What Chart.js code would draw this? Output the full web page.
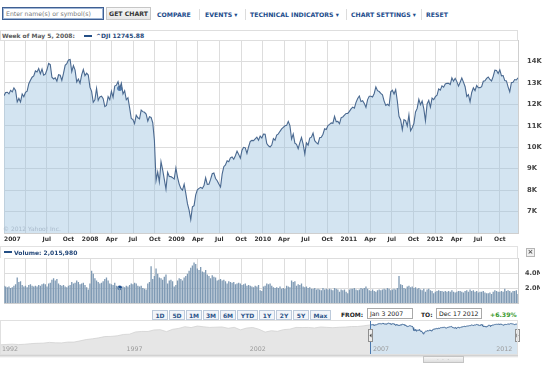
<!DOCTYPE html>
<html><head><meta charset="utf-8">
<script src="https://cdn.jsdelivr.net/npm/chart.js@4.4.0/dist/chart.umd.min.js"></script>
<style>
html,body{margin:0;padding:0;background:#fff;width:550px;height:367px;overflow:hidden;font-family:"DejaVu Sans",Verdana,sans-serif;}
.a{position:absolute;white-space:nowrap;}
.menu{font-weight:bold;font-size:6.2px;color:#1d4c8c;top:11px;line-height:8px;}
.sep{width:1px;height:11px;top:9px;background:#dcdcdc;}
.btn{top:310px;height:10px;line-height:10px;box-sizing:border-box;border:1px solid #bccadb;background:#f2f5f9;color:#2b5389;font-weight:bold;font-size:6px;text-align:center;}
.inp{top:308px;height:11px;box-sizing:border-box;border:1px solid #a9a9a9;background:#fff;color:#222;font-size:6.2px;line-height:9px;padding-left:2px;}
canvas{position:absolute;}
</style></head><body>

<!-- toolbar -->
<div class="a" style="left:2px;top:7px;width:102px;height:13px;box-sizing:border-box;border:1px solid #3f5f92;box-shadow:inset 0 0 0 1px #9fb6d6;color:#7a7a7a;font-size:6.2px;line-height:11px;padding-left:3px;">Enter name(s) or symbol(s)</div>
<div class="a" style="left:106px;top:7px;width:45px;height:13px;box-sizing:border-box;border:1px solid #c6c6c6;background:linear-gradient(#f7f7f7,#e6e6e6);color:#333;font-weight:bold;font-size:6.2px;line-height:11px;text-align:center;">GET CHART</div>
<div class="a menu" style="left:157px;">COMPARE</div>
<div class="a sep" style="left:199px;"></div>
<div class="a menu" style="left:205px;">EVENTS ▾</div>
<div class="a sep" style="left:245px;"></div>
<div class="a menu" style="left:250px;">TECHNICAL INDICATORS ▾</div>
<div class="a sep" style="left:346px;"></div>
<div class="a menu" style="left:351px;">CHART SETTINGS ▾</div>
<div class="a sep" style="left:421px;"></div>
<div class="a menu" style="left:426px;">RESET</div>

<canvas id="main" width="542" height="212" style="left:0;top:35px"></canvas>
<div class="a" style="left:0;top:30px;width:518px;height:11px;box-sizing:border-box;border:1px solid #dedede;background:#fff;"></div>
<div class="a" style="left:2px;top:32px;font-size:6px;font-weight:bold;color:#5a5a5a;line-height:7px;">Week of May 5, 2008:</div>
<div class="a" style="left:84px;top:35px;width:8px;height:2px;background:#244f86;"></div>
<div class="a" style="left:96px;top:32px;font-size:6px;font-weight:bold;color:#24487a;line-height:7px;">^DJI 12745.88</div>
<div class="a" style="left:3px;top:225px;font-size:6px;color:#a9bacb;line-height:7px;">© 2012 Yahoo! Inc.</div>

<canvas id="vol" width="540" height="55" style="left:0;top:253px"></canvas>
<div class="a" style="left:0;top:246px;width:518px;height:12px;box-sizing:border-box;border:1px solid #e2e2e2;border-bottom:none;background:#fff;"></div>
<div class="a" style="left:4px;top:251px;width:8px;height:2px;background:#244f86;"></div>
<div class="a" style="left:14px;top:249px;font-size:6px;font-weight:bold;color:#24487a;line-height:7px;">Volume: 2,015,980</div>
<div class="a" style="left:526px;top:248px;width:9px;height:9px;box-sizing:border-box;border:1px solid #b5b5b5;background:#f1f1f1;color:#555;font-size:7px;line-height:7px;text-align:center;font-weight:bold;">×</div>

<!-- range buttons -->
<div id="btns"></div>
<div class="a" style="left:341px;top:310px;font-size:6px;font-weight:bold;color:#222;line-height:9px;">FROM:</div>
<div class="a inp" style="left:367px;width:46px;">Jan 3 2007</div>
<div class="a" style="left:421px;top:310px;font-size:6px;font-weight:bold;color:#222;line-height:9px;">TO:</div>
<div class="a inp" style="left:436px;width:46px;">Dec 17 2012</div>
<div class="a" style="left:490px;top:310px;font-size:6.2px;font-weight:bold;color:#3a9a2e;line-height:9px;">+6.39%</div>

<canvas id="nav" width="520" height="34" style="left:0;top:321px"></canvas>
<div class="a" style="left:0;top:320px;width:518px;height:35px;box-sizing:border-box;border:1px solid #e0e0e0;"></div>
<div class="a" style="left:0;top:355px;width:518px;height:3px;background:linear-gradient(#c9c9c9,#fff);"></div>
<div class="a" style="left:423px;top:356px;width:41px;height:7px;box-sizing:border-box;border:1px solid #c4c4c4;background:linear-gradient(#f6f6f6,#dedede);color:#aaa;font-size:5px;line-height:5px;text-align:center;letter-spacing:1px;">- - -</div>

<script>
// ---------------- DATA ----------------
// Dow Jones (^DJI) weekly closes, one value per week, weeks starting Mon Jan 1 2007
const dji2007 = [12398,12556,12565,12487,12653,12580,12767,12647,12114,12276,12110,12481,12354,12560,12612,12961,13120,13264,13326,13556,13507,13668,13424,13639,13360,13409,13611,13907,13851,13265,13182,13239,13079,13379,13358,13113,13442,13820,13896,14066,14093,13522,13806,13595,13043,13177,12981,13372,13625,13340,13451,13366];
const dji2008 = [12800,12606,12099,12207,12743,12183,12348,12381,12266,11894,11951,12361,12216,12609,12325,12849,12891,13058,12745.88,12986,12480,12638,12210,12307,11843,11347,11288,11100,11496,11370,11326,11734,11659,11628,11543,11220,11421,11388,11143,10325,8451,8852,8378,9325,8943,8497,8046,8829,8635,8629,8579,8515];
const dji2009 = [9034,8599,8281,8077,8001,8280,7850,7366,7063,6627,7224,7278,7776,8018,8083,8131,8076,8212,8575,8268,8277,8500,8764,8799,8540,8439,8280,8146,8743,9093,9172,9370,9321,9505,9544,9441,9605,9820,9665,9487,9865,9995,9972,9713,10023,10270,10318,10310,10389,10471,10329,10520,10428];
const dji2010 = [10618,10610,10172,10067,10012,10099,10402,10325,10567,10625,10742,10851,10927,10997,11019,11204,11009,10380,10620,10193,10137,9931,10212,10450,10144,9686,10198,10097,10424,10466,10654,10303,10213,10150,10448,10462,10607,10860,10829,11006,11063,11133,11118,11444,11192,11204,11092,11382,11410,11492,11573,11578];
const dji2011 = [11675,11787,11871,11823,12092,12273,12391,12130,12169,12044,11859,12221,12376,12380,12342,12505,12811,12638,12596,12512,12441,12151,11952,12004,11934,12583,12657,12480,12681,12143,11444,11269,10817,11285,11240,10992,11509,10771,10913,11103,11644,11809,12231,11983,12153,11796,11231,12019,12184,11867,12294,12218];
const dji2012 = [12360,12422,12720,12660,12862,12801,12950,12983,12978,12922,13233,13081,13212,13060,12850,13029,13228,13038,12821,12369,12455,12119,12554,12767,12640,12880,12772,12777,12822,13075,13096,13207,13275,13158,13090,13306,13593,13579,13437,13610,13328,13343,13107,13093,12815,12588,13010,13026,13155,13135,13235];

// Weekly volume (millions), same weeks
const vol2007 = [2.3,2.2,2.1,2.2,2.0,2.1,2.3,2.5,3.4,2.8,2.9,2.4,2.2,2.3,2.1,2.4,2.5,2.3,2.2,2.3,2.2,2.4,2.3,2.5,2.6,2.5,2.2,2.6,2.7,3.1,3.3,3.0,3.2,2.6,2.4,2.3,2.4,2.2,2.1,2.3,2.4,2.8,2.6,2.7,3.0,2.8,2.5,2.6,2.7,2.4,2.1,1.8];
const vol2008 = [2.6,4.3,3.9,3.3,3.0,2.8,2.6,2.7,2.9,3.2,3.4,3.0,2.6,2.5,2.4,2.7,2.3,2.2,2.016,2.0,2.2,2.1,2.3,2.2,2.4,2.6,2.5,2.7,2.6,2.3,2.2,2.3,2.0,1.9,1.8,2.6,2.8,4.9,3.2,3.6,4.6,3.9,3.4,3.3,3.1,3.5,3.8,2.6,3.0,3.1,2.9,2.2];
const vol2009 = [2.4,3.0,3.3,3.2,3.0,3.4,3.6,3.9,4.3,4.7,5.0,5.4,5.2,4.6,4.4,4.8,4.2,4.1,4.4,3.8,3.6,3.3,3.7,3.5,3.4,3.0,3.1,3.2,3.0,3.1,2.9,2.6,2.9,2.8,2.7,2.8,2.5,2.6,2.7,2.6,2.4,2.5,2.6,2.3,2.4,2.3,2.2,2.1,2.3,2.2,2.4,1.7,1.6];
const vol2010 = [2.2,2.3,2.6,2.5,2.6,2.3,2.1,2.0,2.1,2.0,2.2,1.9,2.0,1.9,2.3,2.2,2.1,3.0,2.8,2.9,2.3,2.5,2.4,2.6,2.2,2.1,2.2,2.0,2.1,1.9,1.9,2.0,1.8,1.9,1.8,1.7,2.0,1.8,1.9,1.8,1.9,1.8,1.7,2.0,1.9,1.8,1.5,1.8,1.7,1.8,1.5,1.3];
const vol2011 = [1.8,1.9,1.9,2.0,1.8,1.7,1.8,2.0,1.9,2.0,2.2,1.9,1.7,1.6,1.8,1.6,1.5,1.7,1.8,1.7,1.8,1.9,1.8,2.0,1.9,1.7,1.8,1.9,1.8,2.0,3.6,2.5,2.4,2.0,1.9,2.2,2.3,2.1,2.2,2.0,2.1,1.9,2.0,1.8,1.7,1.9,1.5,1.8,1.9,1.7,1.6,1.3];
const vol2012 = [1.5,1.6,1.7,1.6,1.6,1.5,1.6,1.5,1.6,1.5,1.7,1.5,1.4,1.5,1.6,1.6,1.5,1.4,1.6,1.7,1.5,1.8,1.6,1.7,1.5,1.6,1.4,1.5,1.5,1.6,1.4,1.3,1.3,1.4,1.2,1.5,1.7,1.6,1.5,1.5,1.6,1.5,1.9,1.6,1.7,1.6,1.4,1.6,1.6,1.7,1.2];

// Long-term ^DJI for the navigator, quarterly (start of quarter), 1992 - 2006
const djiQuarterly1992to2006 = [3170,3250,3320,3230, 3300,3440,3520,3560, 3750,3640,3620,3830, 3830,4160,4560,4790, 5120,5590,5650,5880, 6450,6580,7670,7950, 7910,8800,8950,7840, 9180,9790,10970,10340, 11500,10920,10450,10650, 10790,9880,10500,8850, 10020,10400,9240,7590, 8340,7990,8990,9280, 10450,10360,10440,10080, 10780,10500,10270,10570, 10720,11110,11150,11680];

const xTickLabels = ['2007','Apr','Jul','Oct','2008','Apr','Jul','Oct','2009','Apr','Jul','Oct','2010','Apr','Jul','Oct','2011','Apr','Jul','Oct','2012','Apr','Jul','Oct'];
const priceTicks = [7000,8000,9000,10000,11000,12000,13000,14000];
const priceTickLabels = ['7K','8K','9K','10K','11K','12K','13K','14K'];
const volTicks = [2000000,4000000];
const volTickLabels = ['2.0M','4.0M'];
const navYears = [1992,1997,2002,2007,2012];
const markerWeek = [2008,4,5];   // "Week of May 5, 2008"
const rangeFromTo = [[2007,0,1],[2012,11,17]];

// ---------------- BUILD ----------------
const DAY = 864e5, T0 = Date.UTC(2007,0,1);
const dayOf = (y,m,d) => (Date.UTC(y,m,d) - T0) / DAY;
const lastDay = dayOf(...rangeFromTo[1]);
const firstDay = dayOf(...rangeFromTo[0]);
const djiWeekly = [].concat(dji2007,dji2008,dji2009,dji2010,dji2011,dji2012);
const volWeekly = [].concat(vol2007,vol2008,vol2009,vol2010,vol2011,vol2012);
const priceData = djiWeekly.map((v,i) => ({x: i*7, y: v}));
const volData = volWeekly.map((v,i) => ({x: i*7, y: v*1e6}));
const markerIdx = Math.round(dayOf(...markerWeek) / 7);
const quarterDays = xTickLabels.map((_, i) => dayOf(2007 + Math.floor(i/4), (i%4)*3, 1));
const navLong = djiQuarterly1992to2006.map((v,k) => ({x: dayOf(1992 + Math.floor(k/4), (k%4)*3, 1), y: v}));
navLong.push(priceData[0]);

const FONT = '"DejaVu Sans", Verdana, sans-serif';
const GRID = '#dddddd';
const noTick = 'rgba(0,0,0,0)';
const common = {animation:false, responsive:false, devicePixelRatio:1, events:[],
  plugins:{legend:{display:false}, tooltip:{enabled:false}}};

// range buttons (HTML)
const rangeButtons = ['1D','5D','1M','3M','6M','YTD','1Y','2Y','5Y','Max'];
(function(){
  let x = 152;
  const host = document.getElementById('btns');
  rangeButtons.forEach(t => {
    const w = (t.length === 3) ? 21 : 16;
    const d = document.createElement('div');
    d.className = 'a btn'; d.style.left = x + 'px'; d.style.width = w + 'px'; d.textContent = t;
    host.appendChild(d); x += w + 1;
  });
})();

// main price chart
new Chart(document.getElementById('main'), {
  type:'line',
  data:{datasets:[
    {data: priceData, borderColor:'#4a6990', borderWidth:1.1, backgroundColor:'rgba(150,190,222,0.42)', fill:'start', pointRadius:0, tension:0},
    {data:[priceData[markerIdx]], showLine:false, pointRadius:2.6, pointBackgroundColor:'#1f4f8f', pointBorderWidth:0}
  ]},
  options:Object.assign({}, common, {
    layout:{padding:{top:5,left:0,right:0,bottom:0}},
    scales:{
      x:{type:'linear', min:0, max:lastDay, bounds:'data',
        afterBuildTicks: s => { s.ticks = quarterDays.map(v => ({value:v})).concat([{value:lastDay}]); },
        afterFit: s => { s.height = 14; },
        grid:{color:GRID, tickColor:noTick, tickLength:3},
        border:{display:true, color:'#cfcfcf'},
        ticks:{align:'inner', autoSkip:false, maxRotation:0, minRotation:0, padding:0, color:'#333',
          font:{family:FONT, size:6, weight:'bold'},
          callback:(v,i) => (i === 1 || i >= xTickLabels.length) ? '' : xTickLabels[i]}
      },
      y:{position:'right', min:6000, max:15000, bounds:'data',
        afterBuildTicks: s => { s.ticks = priceTicks.map(v => ({value:v})); },
        afterFit: s => { s.width = 24; },
        grid:{color:GRID, tickColor:noTick, tickLength:9},
        border:{display:true, color:'#cfcfcf'},
        ticks:{padding:0, color:'#444', font:{family:FONT, size:6.8, weight:'bold'},
          callback:(v,i) => priceTickLabels[i]}
      }
    }
  })
});

// volume chart
new Chart(document.getElementById('vol'), {
  type:'bar',
  data:{datasets:[
    {type:'bar', data: volData, backgroundColor:'#7f9ab4', barPercentage:0.8, categoryPercentage:1, grouped:false},
    {type:'line', data:[volData[markerIdx]], showLine:false, pointRadius:2.4, pointBackgroundColor:'#1f4f8f', pointBorderWidth:0}
  ]},
  options:Object.assign({}, common, {
    layout:{padding:{top:5,left:0,right:0,bottom:5}},
    scales:{
      x:{type:'linear', min:0, max:lastDay, offset:false, bounds:'data',
        afterBuildTicks: s => { s.ticks = quarterDays.map(v => ({value:v})).concat([{value:lastDay}]); },
        afterFit: s => { s.height = 0; },
        grid:{color:GRID, offset:false, drawTicks:false},
        border:{display:true, color:'#cfcfcf'},
        ticks:{display:false}
      },
      y:{position:'right', min:0, max:6000000, bounds:'data',
        afterBuildTicks: s => { s.ticks = volTicks.map(v => ({value:v})).concat([{value:6000000}]); },
        afterFit: s => { s.width = 22; },
        grid:{color:GRID, tickColor:noTick, tickLength:7},
        border:{display:true, color:'#cfcfcf'},
        ticks:{padding:0, color:'#444', font:{family:FONT, size:6.5, weight:'bold'},
          callback:(v,i) => volTickLabels[i] || ''}
      }
    }
  })
});

// navigator
const navDecor = {
  id:'navDecor',
  afterDraw(chart){
    const {ctx, chartArea:a, scales:{x}} = chart;
    ctx.save();
    ctx.font = '6.3px ' + FONT; ctx.fillStyle = '#999'; ctx.textBaseline = 'alphabetic';
    navYears.forEach(yr => {
      const px = x.getPixelForValue(dayOf(yr,0,1));
      ctx.fillText(String(yr), px + (yr === navYears[0] ? 2 : 3), a.bottom - 4);
    });
    [firstDay, lastDay].forEach((d, j) => {
      const px = Math.round(x.getPixelForValue(d));
      ctx.strokeStyle = '#4a78ad'; ctx.lineWidth = 1;
      ctx.beginPath(); ctx.moveTo(px + 0.5, a.top); ctx.lineTo(px + 0.5, a.bottom); ctx.stroke();
      const hx = px - 2;
      ctx.fillStyle = '#ececec'; ctx.strokeStyle = '#8f8f8f';
      ctx.fillRect(hx, a.top + 8, 5, 13); ctx.strokeRect(hx + 0.5, a.top + 8.5, 4, 12);
      ctx.fillStyle = '#444';
      ctx.beginPath();
      if (j === 0) { ctx.moveTo(hx + 1.5, a.top + 14.5); ctx.lineTo(hx + 3.5, a.top + 12.5); ctx.lineTo(hx + 3.5, a.top + 16.5); }
      else { ctx.moveTo(hx + 3.5, a.top + 14.5); ctx.lineTo(hx + 1.5, a.top + 12.5); ctx.lineTo(hx + 1.5, a.top + 16.5); }
      ctx.fill();
    });
    ctx.restore();
  }
};
new Chart(document.getElementById('nav'), {
  type:'line',
  data:{datasets:[
    {data: navLong, borderColor:'#d2d2d2', borderWidth:0.8, backgroundColor:'#e6e6e6', fill:'start', pointRadius:0, tension:0},
    {data: priceData, borderColor:'#3d6696', borderWidth:0.9, backgroundColor:'#d5e4f0', fill:'start', pointRadius:0, tension:0}
  ]},
  options:Object.assign({}, common, {
    layout:{padding:{top:0,left:0,right:3,bottom:0}},
    scales:{
      x:{type:'linear', min:dayOf(1992,0,1), max:lastDay, bounds:'data', z:1,
        afterBuildTicks: s => { s.ticks = navYears.map(y => ({value:dayOf(y,0,1)})); },
        afterFit: s => { s.height = 0; },
        grid:{color:'rgba(255,255,255,0.85)', drawTicks:false},
        border:{display:false},
        ticks:{display:false}
      },
      y:{type:'logarithmic', min:1580, max:16240, display:false}
    }
  }),
  plugins:[navDecor]
});
</script>
</body></html>
